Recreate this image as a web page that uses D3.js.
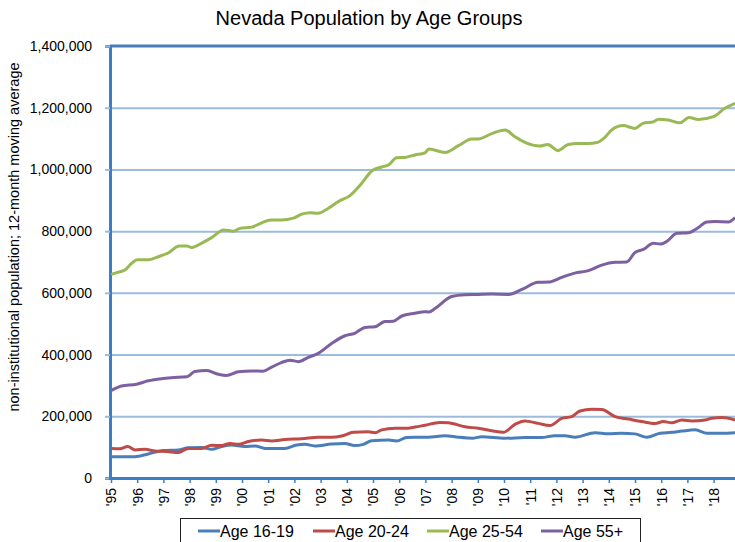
<!DOCTYPE html>
<html>
<head>
<meta charset="utf-8">
<script src="https://cdn.jsdelivr.net/npm/d3@7"></script>
<style>
  body { margin: 0; background: #fff; }
  svg { display: block; font-family: "Liberation Sans", Arial, sans-serif; }
</style>
</head>
<body>
<div id="chart"></div>
<script>
// series: [decimal year, population in thousands]
var age1619 = [[1995.0,69],[1995.92,69],[1996.42,78],[1997.0,89],[1997.57,91],[1997.95,98],[1998.46,99],[1998.84,93],[1999.22,102],[1999.6,107],[2000.1,102],[2000.5,104],[2000.88,96],[2001.64,96],[2002.09,107],[2002.4,109],[2002.78,104],[2003.42,110],[2003.93,112],[2004.3,105],[2004.63,109],[2004.95,121],[2005.6,123],[2005.9,120],[2006.28,131],[2006.6,132],[2007.1,132],[2007.75,137],[2008.26,132],[2008.83,129],[2009.15,134],[2010.04,129],[2010.8,131],[2011.43,131],[2011.94,137],[2012.33,137],[2012.71,132],[2013.48,147],[2013.98,143],[2014.49,145],[2015.0,143],[2015.45,132],[2015.96,145],[2016.4,148],[2016.79,152],[2017.3,156],[2017.75,145],[2018.32,145],[2018.82,147]];
var age2024 = [[1995.0,96],[1995.34,95],[1995.64,102],[1995.92,91],[1996.3,93],[1996.68,87.5],[1997.12,86],[1997.57,83],[1997.95,96],[1998.46,96],[1998.84,106],[1999.22,105],[1999.54,112],[1999.86,109],[2000.24,118],[2000.75,123],[2001.13,120],[2001.64,125],[2002.28,127],[2002.91,132],[2003.42,132],[2003.8,136],[2004.25,148],[2004.82,150],[2005.08,147],[2005.33,156],[2005.84,161],[2006.22,161],[2006.6,165],[2006.98,171],[2007.55,180],[2007.87,179],[2008.51,166],[2009.02,161],[2009.53,153],[2009.98,148],[2010.42,174],[2010.8,185],[2011.3,177],[2011.75,170],[2012.2,193],[2012.58,199],[2012.9,217],[2013.35,223],[2013.73,222],[2014.24,199],[2014.75,191],[2015.26,183],[2015.77,177],[2016.08,183],[2016.4,179],[2016.79,188],[2017.17,185],[2017.68,188],[2017.93,194],[2018.32,196],[2018.82,188]];
var age2554 = [[1995.0,660],[1995.28,667],[1995.53,674],[1995.79,696],[1996.0,707],[1996.42,707],[1996.8,717],[1997.2,730],[1997.6,752],[1997.9,752],[1998.08,747],[1998.5,763],[1998.84,779],[1999.3,804],[1999.67,800],[1999.92,809],[2000.37,813],[2000.75,827],[2001.1,836],[2001.5,836],[2001.96,842],[2002.28,855],[2002.6,860],[2002.9,858],[2003.3,874],[2003.68,896],[2004.12,915],[2004.57,955],[2004.95,995],[2005.33,1008],[2005.6,1015],[2005.9,1038],[2006.22,1039],[2006.6,1047],[2006.98,1054],[2007.14,1066],[2007.75,1055],[2008.26,1077],[2008.77,1099],[2009.02,1099],[2009.53,1116],[2010.04,1128],[2010.42,1106],[2010.8,1088],[2011.37,1076],[2011.67,1081],[2012.07,1061],[2012.45,1081],[2012.84,1084],[2013.22,1084],[2013.54,1087],[2013.85,1104],[2014.11,1128],[2014.55,1142],[2015.0,1133],[2015.32,1150],[2015.7,1154],[2015.9,1163],[2016.27,1160],[2016.72,1151],[2017.06,1168],[2017.42,1162],[2017.99,1171],[2018.43,1198],[2018.82,1214]];
var age55 = [[1995.0,283],[1995.4,298],[1995.98,304],[1996.42,315],[1996.93,322],[1997.3,325],[1997.9,328],[1998.2,345],[1998.65,348],[1999.1,336],[1999.4,332],[1999.86,344],[2000.37,347],[2000.8,346],[2001.13,359],[2001.5,374],[2001.83,382],[2002.15,377],[2002.53,391],[2002.91,404],[2003.42,436],[2003.93,461],[2004.3,469],[2004.7,488],[2005.07,490],[2005.45,507],[2005.78,508],[2006.1,525],[2006.6,534],[2006.98,539],[2007.13,538],[2007.38,550],[2008.0,588],[2008.5,594],[2009.02,595],[2009.53,596],[2010.17,595],[2010.68,611],[2011.3,634],[2011.7,635],[2012.2,650],[2012.7,664],[2013.22,672],[2013.73,690],[2014.24,699],[2014.68,700],[2015.0,731],[2015.32,741],[2015.7,761],[2015.96,758],[2016.2,766],[2016.6,793],[2017.04,795],[2017.42,812],[2017.74,830],[2018.06,831],[2018.57,830],[2018.82,844]];

var seriesNames = ["Age 16-19", "Age 20-24", "Age 25-54", "Age 55+"];
var seriesData = [age1619, age2024, age2554, age55];
var seriesColors = ["#4a7ebb", "#be4b48", "#98b954", "#7d60a0"];

var yearTicks = d3.range(1995, 2019);
var yTicks = [0, 200000, 400000, 600000, 800000, 1000000, 1200000, 1400000];

var svgWidth = 735;
var svgHeight = 542;
var plot = {left: 111, top: 46, bottom: 478};

var svg = d3.select("#chart")
  .append("svg")
  .attr("width", svgWidth)
  .attr("height", svgHeight);

var x = d3.scaleLinear().domain([1995, 2019]).range([plot.left, plot.left + 24 * 26.2]);
var y = d3.scaleLinear().domain([0, 1400000]).range([plot.bottom, plot.top]);

// title
svg.append("text")
  .attr("x", 369)
  .attr("y", 25)
  .attr("text-anchor", "middle")
  .style("font-size", "20px")
  .style("fill", "#000")
  .text("Nevada Population by Age Groups");

// gridlines
var grid = svg.append("g")
  .attr("transform", "translate(" + (plot.left - 1) + ",0)")
  .call(d3.axisLeft(y).tickValues(yTicks.slice(1, -1)).tickSize(-(svgWidth - plot.left + 1)).tickFormat(""));
grid.select(".domain").remove();
grid.selectAll("line").attr("stroke", "#9dbbdb").attr("stroke-width", 2);

// top border
svg.append("line")
  .attr("x1", plot.left - 1).attr("x2", svgWidth)
  .attr("y1", y(1400000)).attr("y2", y(1400000))
  .attr("stroke", "#4a7ebb")
  .attr("stroke-width", 3);

// y axis
var yAxis = svg.append("g")
  .attr("transform", "translate(" + (plot.left - 1) + ",0)")
  .call(d3.axisLeft(y).tickValues(yTicks).tickSize(5).tickPadding(13).tickFormat(d3.format(",")));
yAxis.select(".domain").attr("stroke", "#3c7dc4").attr("stroke-width", 3);
yAxis.selectAll("line").attr("stroke", "#9dbbdb").attr("stroke-width", 2);
yAxis.selectAll("text")
  .style("font-size", "14px")
  .style("fill", "#000")
  .style("font-family", "Liberation Sans, Arial, sans-serif");

// x axis
var xAxis = svg.append("g")
  .attr("transform", "translate(0," + plot.bottom + ")")
  .call(d3.axisBottom(x).tickValues(yearTicks).tickSize(5).tickSizeOuter(0)
    .tickFormat(function(d) { return "'" + String(d).slice(2); }));
xAxis.select(".domain")
  .attr("d", "M" + (plot.left - 2) + ",0.5H" + svgWidth)
  .attr("stroke", "#3c7dc4").attr("stroke-width", 3);
xAxis.selectAll("line").attr("stroke", "#3c7dc4").attr("stroke-width", 1.5);
xAxis.selectAll("text")
  .attr("y", 0)
  .attr("dy", "0.35em")
  .attr("transform", "translate(0,10) rotate(-90)")
  .attr("text-anchor", "end")
  .style("font-size", "14px")
  .style("fill", "#000")
  .style("font-family", "Liberation Sans, Arial, sans-serif");

// y axis label
svg.append("text")
  .attr("transform", "translate(19,237) rotate(-90)")
  .attr("text-anchor", "middle")
  .style("font-size", "14.5px")
  .style("fill", "#000")
  .text("non-institutional population; 12-month moving average");

// lines
var line = d3.line()
  .x(function(d) { return x(d[0]); })
  .y(function(d) { return y(d[1] * 1000); })
  .curve(d3.curveMonotoneX);

svg.append("g")
  .selectAll("path")
  .data(seriesData)
  .enter()
  .append("path")
  .attr("d", line)
  .attr("fill", "none")
  .attr("stroke", function(d, i) { return seriesColors[i]; })
  .attr("stroke-width", 3)
  .attr("stroke-linejoin", "round");

// legend
var legend = svg.append("g");
legend.append("rect")
  .attr("x", 180.5).attr("y", 518.5)
  .attr("width", 460).attr("height", 30)
  .attr("fill", "#fff")
  .attr("stroke", "#222")
  .attr("stroke-width", 1);

var legendX = [198, 313, 427, 541];
var item = legend.selectAll(".item")
  .data(seriesNames)
  .enter()
  .append("g")
  .attr("transform", function(d, i) { return "translate(" + legendX[i] + ",531)"; });
item.append("line")
  .attr("x1", 0).attr("x2", 22)
  .attr("stroke", function(d, i) { return seriesColors[i]; })
  .attr("stroke-width", 3);
item.append("text")
  .attr("x", 22)
  .attr("dy", "0.35em")
  .style("font-size", "16px")
  .style("fill", "#000")
  .text(function(d) { return d; });
</script>
</body>
</html>
